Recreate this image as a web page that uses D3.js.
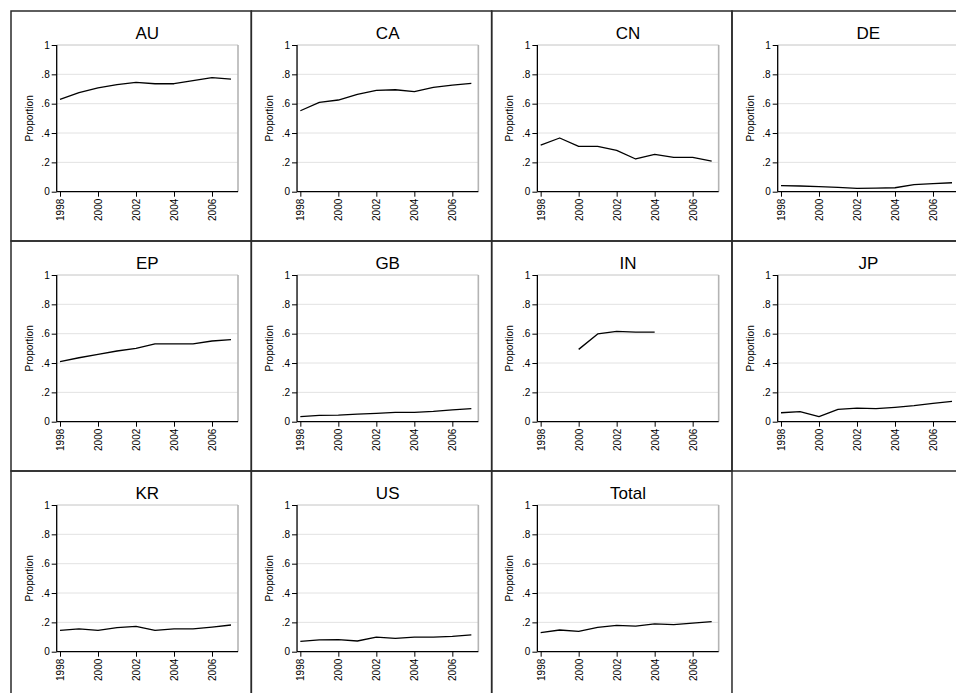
<!DOCTYPE html>
<html>
<head>
<meta charset="utf-8">
<script src="https://cdn.jsdelivr.net/npm/d3@7"></script>
<style>
  html, body { margin: 0; padding: 0; background: #fff; }
  svg { display: block; font-family: "Liberation Sans", Arial, Helvetica, sans-serif; }
</style>
</head>
<body>
<svg id="chart" width="956" height="693"></svg>
<script>
// ---- data ----
const years = [1998, 1999, 2000, 2001, 2002, 2003, 2004, 2005, 2006, 2007];
const panelNames = ["AU", "CA", "CN", "DE", "EP", "GB", "IN", "JP", "KR", "US", "Total"];
const AU    = [0.630, 0.675, 0.707, 0.730, 0.745, 0.736, 0.736, 0.757, 0.777, 0.768];
const CA    = [0.552, 0.609, 0.625, 0.664, 0.691, 0.695, 0.682, 0.711, 0.727, 0.739];
const CN    = [0.318, 0.366, 0.309, 0.309, 0.282, 0.223, 0.255, 0.234, 0.234, 0.209];
const DE    = [0.041, 0.039, 0.034, 0.030, 0.023, 0.025, 0.027, 0.048, 0.055, 0.061];
const EP    = [0.409, 0.436, 0.459, 0.482, 0.500, 0.530, 0.530, 0.530, 0.550, 0.559];
const GB    = [0.034, 0.043, 0.045, 0.052, 0.057, 0.064, 0.064, 0.070, 0.080, 0.089];
const IN    = [null, null, 0.493, 0.598, 0.616, 0.611, 0.611, null, null, null];
const JP    = [0.061, 0.068, 0.034, 0.084, 0.093, 0.089, 0.098, 0.109, 0.125, 0.139];
const KR    = [0.145, 0.155, 0.145, 0.164, 0.173, 0.145, 0.155, 0.155, 0.168, 0.182];
const US    = [0.070, 0.080, 0.082, 0.073, 0.100, 0.091, 0.100, 0.100, 0.105, 0.114];
const Total = [0.130, 0.148, 0.139, 0.166, 0.180, 0.175, 0.189, 0.184, 0.195, 0.205];
const seriesByPanel = [AU, CA, CN, DE, EP, GB, IN, JP, KR, US, Total];
const yTickValues = [0, 0.2, 0.4, 0.6, 0.8, 1];
const yTickLabels = ["0", ".2", ".4", ".6", ".8", "1"];
const xTickValues = [1998, 2000, 2002, 2004, 2006];
const yTitle = "Proportion";

// ---- layout ----
const svg = d3.select("#chart");
const nCols = 4;
const cellX0 = 11, cellY0 = 11, cellW = 240.33, cellH = 230;
const pL = 45.7, pR = 227, pT = 34, pB = 180.7;

const x = d3.scaleLinear().domain([1997.826, 2007.368]).range([pL, pR]);
const y = d3.scaleLinear().domain([0, 1]).range([pB, pT]);

const line = d3.line()
  .defined(d => d.v !== null)
  .x(d => x(d.year))
  .y(d => y(d.v));

panelNames.forEach((name, i) => {
  const col = i % nCols, row = Math.floor(i / nCols);
  const g = svg.append("g")
    .attr("transform", `translate(${cellX0 + col * cellW},${cellY0 + row * cellH})`);

  // cell border
  g.append("rect")
    .attr("x", 0).attr("y", 0)
    .attr("width", cellW).attr("height", cellH)
    .attr("fill", "none")
    .attr("stroke", "#2a2a2a")
    .attr("stroke-width", 1.5);

  // gridlines
  g.append("g").selectAll("line")
    .data(yTickValues.filter(v => v > 0 && v < 1))
    .join("line")
    .attr("x1", pL).attr("x2", pR)
    .attr("y1", d => y(d)).attr("y2", d => y(d))
    .attr("stroke", "#e2e2e2")
    .attr("stroke-width", 1);

  // plot region outline (top, right)
  g.append("line")
    .attr("x1", pL).attr("x2", pR).attr("y1", y(1)).attr("y2", y(1))
    .attr("stroke", "#c4c4c4").attr("stroke-width", 1);
  g.append("line")
    .attr("x1", pR).attr("x2", pR).attr("y1", y(1)).attr("y2", y(0))
    .attr("stroke", "#b4b4b4").attr("stroke-width", 1.6);

  // y axis
  const yAxis = d3.axisLeft(y)
    .tickValues(yTickValues)
    .tickFormat((d, k) => yTickLabels[k])
    .tickSize(5).tickPadding(2);
  const ya = g.append("g").attr("transform", `translate(${pL},0)`).call(yAxis);
  ya.attr("font-size", 10);
  ya.select(".domain").attr("stroke", "#000").attr("stroke-width", 1.3).attr("d", `M0,${y(1)}V${y(0)}`);
  ya.selectAll(".tick line").attr("stroke", "#000").attr("stroke-width", 1);
  ya.selectAll(".tick text").attr("font-size", 10).attr("fill", "#000")
    .attr("font-family", "Liberation Sans, Arial, sans-serif");

  // x axis
  const xAxis = d3.axisBottom(x)
    .tickValues(xTickValues)
    .tickFormat(d3.format("d"))
    .tickSize(5).tickPadding(2);
  const xa = g.append("g").attr("transform", `translate(0,${pB})`).call(xAxis);
  xa.attr("font-size", 10);
  xa.select(".domain").attr("stroke", "#000").attr("stroke-width", 1.3).attr("d", `M${pL},0H${pR}`);
  xa.selectAll(".tick line").attr("stroke", "#000").attr("stroke-width", 1);
  xa.selectAll(".tick text")
    .attr("font-size", 10).attr("fill", "#000")
    .attr("font-family", "Liberation Sans, Arial, sans-serif")
    .attr("transform", "rotate(-90)")
    .attr("text-anchor", "end")
    .attr("x", -7).attr("y", 0).attr("dy", "0.35em");

  // y title
  g.append("text")
    .attr("transform", `translate(${pL - 24},${(pT + pB) / 2}) rotate(-90)`)
    .attr("text-anchor", "middle")
    .attr("font-size", 10)
    .attr("fill", "#000")
    .text(yTitle);

  // panel title
  g.append("text")
    .attr("x", (pL + pR) / 2).attr("y", 28)
    .attr("text-anchor", "middle")
    .attr("font-size", 17)
    .attr("fill", "#000")
    .text(name);

  // series line
  const pts = years.map((yr, k) => ({ year: yr, v: seriesByPanel[i][k] }));
  g.append("path")
    .datum(pts)
    .attr("fill", "none")
    .attr("stroke", "#000")
    .attr("stroke-width", 1.3)
    .attr("stroke-linejoin", "round")
    .attr("d", line);
});
</script>
</body>
</html>
